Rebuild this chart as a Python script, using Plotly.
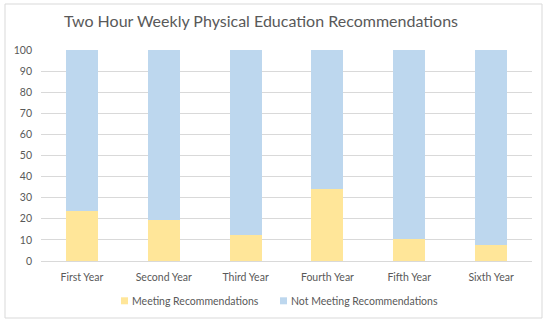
import plotly.graph_objects as go

categories = ["First Year", "Second Year", "Third Year", "Fourth Year", "Fifth Year", "Sixth Year"]
meeting = [23.7, 19.4, 12.4, 34.1, 10.5, 7.8]
not_meeting = [round(100 - v, 1) for v in meeting]
series_names = ["Meeting Recommendations", "Not Meeting Recommendations"]
series_colors = ["#FFE699", "#BDD7EE"]

FONT = "Lato, 'Open Sans', sans-serif"
GREY = "#595959"

# plot-area pixel frame (used to place decorations in paper coords)
L, R, T, B = 41, 532, 50, 261
def px(x):
    return (x - L) / (R - L)
def py(y):
    return (B - y) / (B - T)

fig = go.Figure()
for vals, name, col in zip([meeting, not_meeting], series_names, series_colors):
    fig.add_trace(go.Bar(x=categories, y=vals, name=name, showlegend=False,
                         marker=dict(color=col, line=dict(width=0)), width=0.39))

fig.update_layout(
    barmode="stack",
    width=550, height=323,
    margin=dict(l=L, r=550 - R, t=T, b=323 - B, autoexpand=False),
    paper_bgcolor="white", plot_bgcolor="white",
    font=dict(family=FONT, size=10.5, color=GREY),
    title=dict(text="Two Hour Weekly Physical Education Recommendations",
               x=261/550, xanchor="center", y=1 - 21/323, yanchor="middle",
               font=dict(family=FONT, size=16, color=GREY)),
    showlegend=False,
)
fig.update_yaxes(range=[0, 100], dtick=10, showgrid=True, gridcolor="#D9D9D9", gridwidth=1,
                 zeroline=False, showline=False, ticklabelstandoff=8,
                 tickfont=dict(size=10.5, color=GREY))
fig.update_xaxes(showline=True, linecolor="#D9D9D9", linewidth=1, ticks="",
                 ticklabelstandoff=6, tickfont=dict(size=10.5, color=GREY))

# chart border
fig.add_shape(type="rect", xref="paper", yref="paper",
              x0=px(5), x1=px(542), y0=py(318), y1=py(4),
              line=dict(color="#D9D9D9", width=1), fillcolor="rgba(0,0,0,0)", layer="below")

# legend (swatch + text)
legend_sw_x = [121, 280]
for sx, name, col in zip(legend_sw_x, series_names, series_colors):
    fig.add_shape(type="rect", xref="paper", yref="paper",
                  x0=px(sx), x1=px(sx + 7), y0=py(304.3), y1=py(297.3),
                  line=dict(width=0), fillcolor=col)
    fig.add_annotation(xref="paper", yref="paper", x=px(sx + 8.5), y=py(300.8),
                       xanchor="left", yanchor="middle", showarrow=False, text=name,
                       font=dict(family=FONT, size=10.5, color=GREY))

fig.write_html("out.html", config={"displayModeBar": False},
               post_script="document.body.style.margin='0';")
